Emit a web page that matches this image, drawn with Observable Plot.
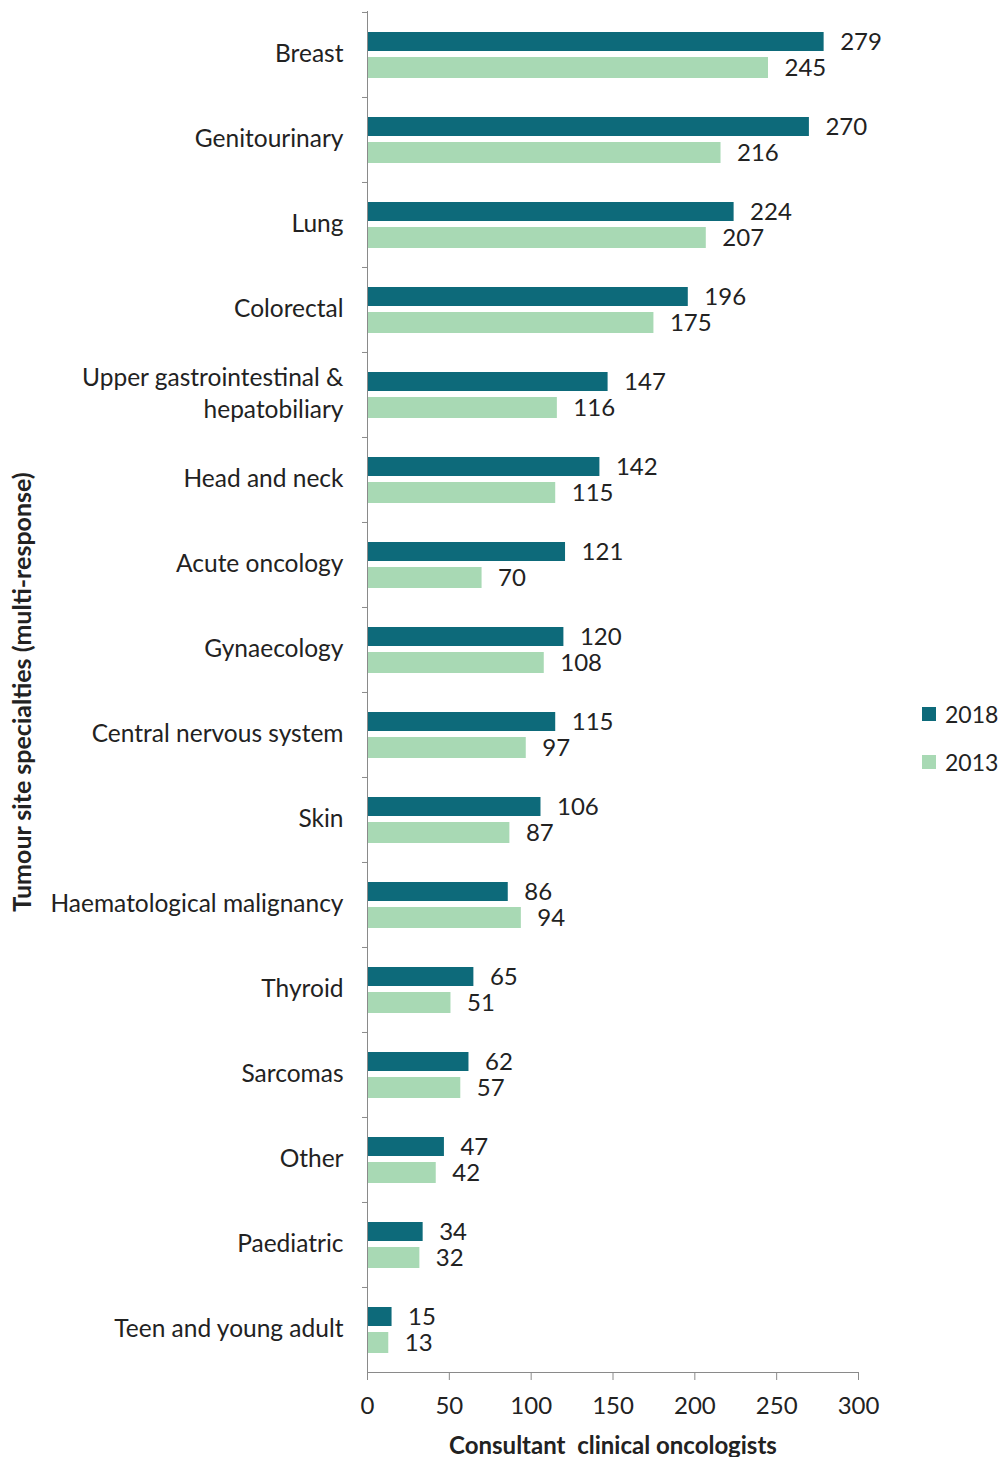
<!DOCTYPE html>
<html>
<head>
<meta charset="utf-8">
<script src="https://cdn.jsdelivr.net/npm/d3@7"></script>
<script src="https://cdn.jsdelivr.net/npm/@observablehq/plot@0.6"></script>
<style>
  body { margin: 0; background: #fff; }
  #wrap { position: relative; width: 1000px; height: 1457px; overflow: hidden; font-family: Lato, "Open Sans", sans-serif; }
  .leg { position: absolute; left: 922px; font-size: 23px; color: #222; display: flex; align-items: center; }
  .leg i { display: inline-block; width: 14px; height: 14px; margin-right: 9px; }
</style>
</head>
<body>
<div id="wrap"></div>
<script>
const categories = ["Breast","Genitourinary","Lung","Colorectal","Upper gastrointestinal & hepatobiliary","Head and neck","Acute oncology","Gynaecology","Central nervous system","Skin","Haematological malignancy","Thyroid","Sarcomas","Other","Paediatric","Teen and young adult"];
const values2018 = [279,270,224,196,147,142,121,120,115,106,86,65,62,47,34,15];
const values2013 = [245,216,207,175,116,115,70,108,97,87,94,51,57,42,32,13];
const xTicks = [0,50,100,150,200,250,300];
const seriesNames = ["2018","2013"];
const seriesColors = ["#0d6a7a","#a8d9b4"];

const data = categories.map((c, i) => ({category: c, v2018: values2018[i], v2013: values2013[i]}));
const gray = "#8a8a8a";
const textColor = "#222";

const chart = Plot.plot({
  width: 1000,
  height: 1457,
  marginLeft: 367,
  marginRight: 142,
  marginTop: 11,
  marginBottom: 85,
  style: {fontFamily: "Lato, 'Open Sans', sans-serif", background: "#fff", color: textColor},
  x: {domain: [0, 300], ticks: xTicks},
  y: {domain: categories, padding: 0, axis: null},
  marks: [
    Plot.barX(data, {x: "v2018", y: "category", fill: seriesColors[0], insetTop: 20, insetBottom: 46}),
    Plot.barX(data, {x: "v2013", y: "category", fill: seriesColors[1], insetTop: 45, insetBottom: 19}),
    Plot.text(data, {x: "v2018", y: "category", text: d => String(d.v2018), dx: 16, dy: -13, textAnchor: "start", fontSize: 24, fill: textColor}),
    Plot.text(data, {x: "v2013", y: "category", text: d => String(d.v2013), dx: 16, dy: 13, textAnchor: "start", fontSize: 24, fill: textColor}),
    Plot.text(data, {y: "category", text: d => d.category === "Upper gastrointestinal & hepatobiliary" ? "Upper gastrointestinal &\nhepatobiliary" : d.category, frameAnchor: "left", dx: -24, dy: -3, textAnchor: "end", fontSize: 24.5, lineHeight: 1.3, fill: textColor}),
    Plot.ruleY(categories, {y: d => d, dy: -1361 / 32, x1: 0, x2: 0, insetLeft: -5, stroke: gray}),
    Plot.frame({anchor: "left", stroke: gray}),
    Plot.frame({anchor: "bottom", stroke: gray}),
    Plot.axisX({ticks: xTicks, tickSize: 8, tickPadding: 16, fontSize: 24, label: null, stroke: gray, fill: textColor}),
    Plot.text(["Consultant  clinical oncologists"], {frameAnchor: "bottom", dy: 81, fontSize: 24, fontWeight: "bold", fill: textColor}),
    Plot.text(["Tumour site specialties (multi-response)"], {frameAnchor: "left", dx: -345, rotate: -90, textAnchor: "middle", fontSize: 25, fontWeight: "bold", fill: textColor})
  ]
});

const wrap = document.getElementById("wrap");
wrap.appendChild(chart);
seriesNames.forEach((name, i) => {
  const d = document.createElement("div");
  d.className = "leg";
  d.style.top = (700 + i * 48) + "px";
  d.innerHTML = `<i style="background:${seriesColors[i]}"></i><span>${name}</span>`;
  wrap.appendChild(d);
});
</script>
</body>
</html>
